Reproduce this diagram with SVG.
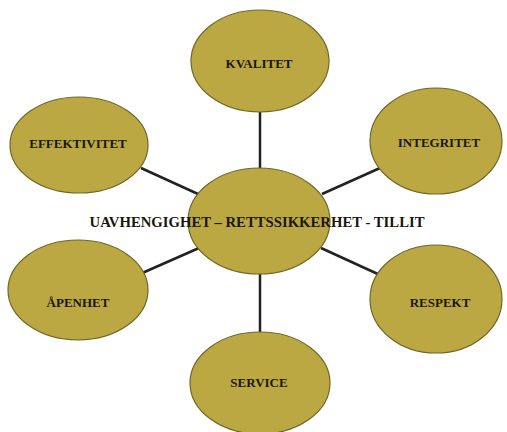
<svg xmlns="http://www.w3.org/2000/svg" width="507" height="432" viewBox="0 0 507 432">
<style>
.node ellipse{fill:#bba843;stroke:#6f6728;stroke-width:1.2}
.lbl{font-family:"Liberation Serif","Times New Roman",serif;font-weight:bold;font-size:13px;fill:#1a160a;text-anchor:middle;dominant-baseline:central}
.main{font-size:14.5px}
.conn line{stroke:#222;stroke-width:2.5}
</style>
<rect width="507" height="432" fill="#fff"/>
<g id="connectors" class="conn">
<line x1="260" y1="112" x2="260" y2="169"/>
<line x1="141" y1="168" x2="198" y2="194"/>
<line x1="380" y1="168" x2="322" y2="194"/>
<line x1="140" y1="274" x2="199" y2="248"/>
<line x1="380" y1="275" x2="321" y2="248"/>
<line x1="260" y1="274" x2="260" y2="333"/>
</g>
<g id="kvalitet" class="node"><ellipse cx="260" cy="61" rx="69" ry="51"/><text class="lbl" x="259" y="63">KVALITET</text></g>
<g id="effektivitet" class="node"><ellipse cx="79" cy="145" rx="69" ry="48"/><text class="lbl" x="78" y="143">EFFEKTIVITET</text></g>
<g id="integritet" class="node"><ellipse cx="436" cy="141" rx="66" ry="53"/><text class="lbl" x="439" y="142">INTEGRITET</text></g>
<g id="apenhet" class="node"><ellipse cx="78" cy="290" rx="70" ry="50"/><text class="lbl" x="78" y="302">ÅPENHET</text></g>
<g id="respekt" class="node"><ellipse cx="436" cy="299" rx="66" ry="54"/><text class="lbl" x="440" y="302">RESPEKT</text></g>
<g id="service" class="node"><ellipse cx="260" cy="383" rx="70" ry="51"/><text class="lbl" x="259" y="382">SERVICE</text></g>
<g id="center" class="node"><ellipse cx="259" cy="221" rx="71" ry="53"/><text class="lbl main" x="257" y="222" textLength="335" lengthAdjust="spacingAndGlyphs">UAVHENGIGHET – RETTSSIKKERHET - TILLIT</text></g>
</svg>
